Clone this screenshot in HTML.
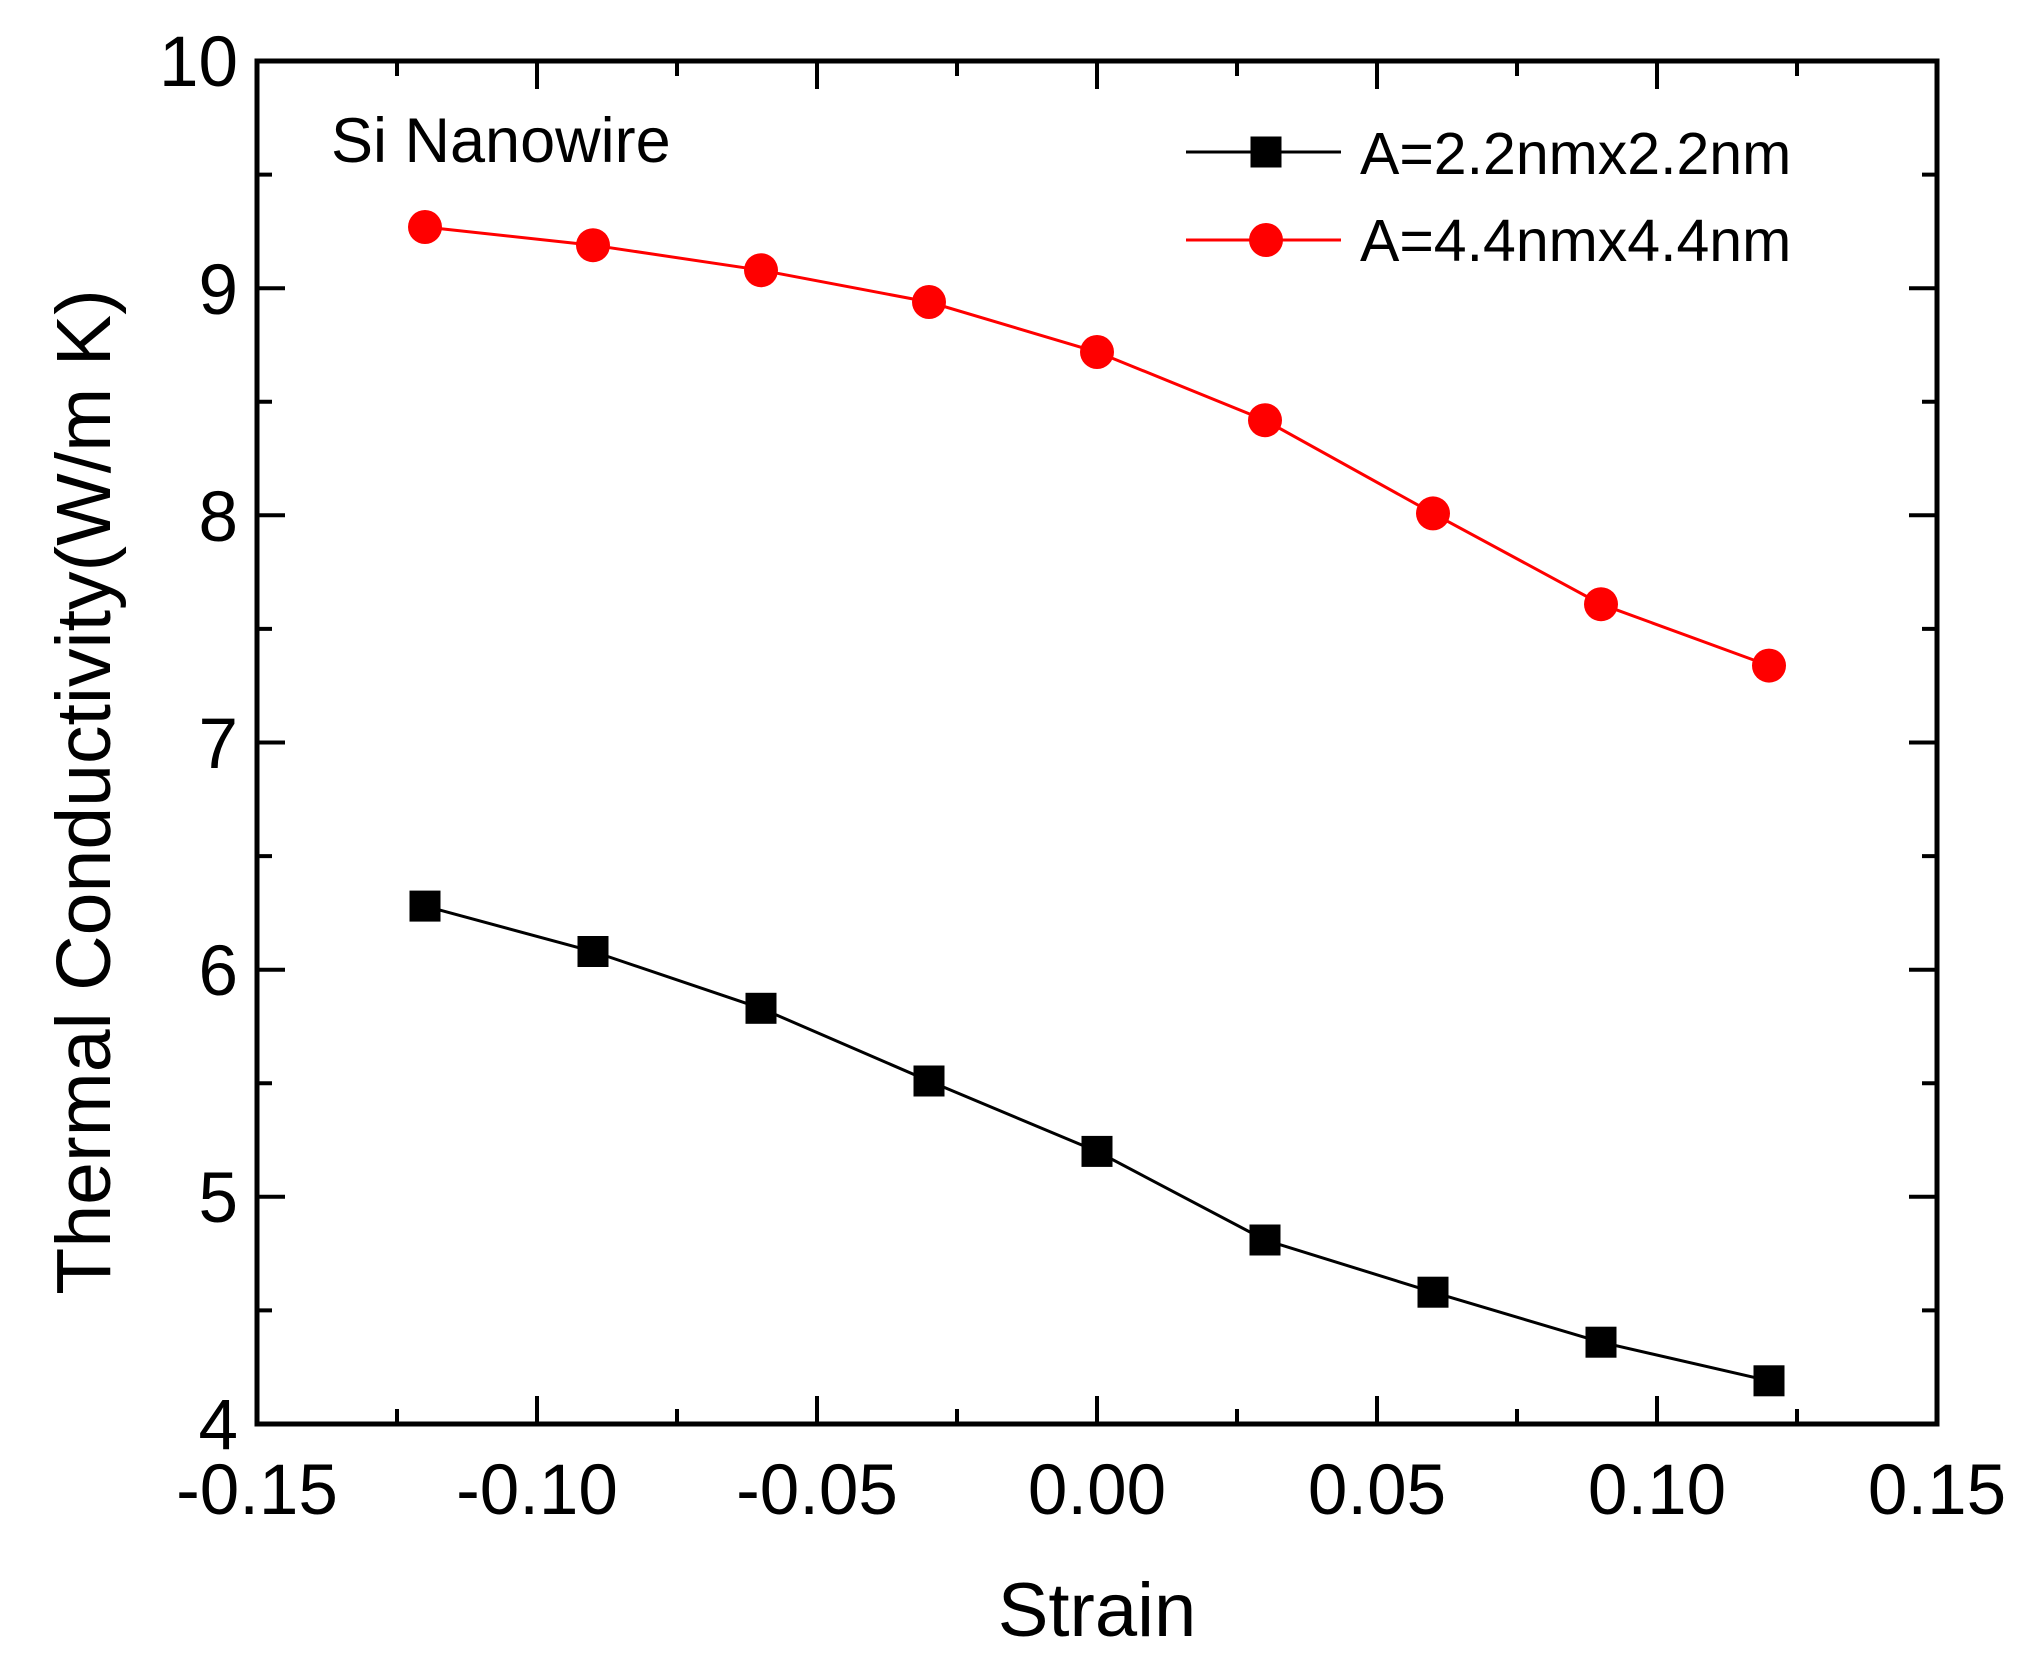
<!DOCTYPE html>
<html><head><meta charset="utf-8"><style>html,body{margin:0;padding:0;background:#fff}</style></head><body>
<svg width="2022" height="1651" xmlns="http://www.w3.org/2000/svg" font-family="Liberation Sans, Arial, sans-serif">
<rect width="2022" height="1651" fill="#fff"/>
<rect x="257" y="61" width="1680" height="1363" fill="none" stroke="#000" stroke-width="5"/>
<g stroke="#000" stroke-width="4">
<path d="M257 1424v-28M537 1424v-28M817 1424v-28M1097 1424v-28M1377 1424v-28M1657 1424v-28M1937 1424v-28
M257 61v28M537 61v28M817 61v28M1097 61v28M1377 61v28M1657 61v28M1937 61v28
M397 1424v-15M677 1424v-15M957 1424v-15M1237 1424v-15M1517 1424v-15M1797 1424v-15
M397 61v15M677 61v15M957 61v15M1237 61v15M1517 61v15M1797 61v15
M257 1424h28M257 1196.8h28M257 969.7h28M257 742.5h28M257 515.3h28M257 288.2h28M257 61h28
M1937 1424h-28M1937 1196.8h-28M1937 969.7h-28M1937 742.5h-28M1937 515.3h-28M1937 288.2h-28M1937 61h-28
M257 1310.4h15M257 1083.3h15M257 856.1h15M257 628.9h15M257 401.8h15M257 174.6h15
M1937 1310.4h-15M1937 1083.3h-15M1937 856.1h-15M1937 628.9h-15M1937 401.8h-15M1937 174.6h-15"/>
</g>
<g font-size="71" text-anchor="middle" fill="#000">
<text x="257" y="1514">-0.15</text><text x="537" y="1514">-0.10</text><text x="817" y="1514">-0.05</text>
<text x="1097" y="1514">0.00</text><text x="1377" y="1514">0.05</text><text x="1657" y="1514">0.10</text><text x="1937" y="1514">0.15</text>
</g>
<g font-size="71" text-anchor="end" fill="#000">
<text x="238" y="1449">4</text><text x="238" y="1222">5</text><text x="238" y="995">6</text><text x="238" y="768">7</text>
<text x="238" y="541">8</text><text x="238" y="314">9</text><text x="238" y="86">10</text>
</g>
<text x="1097" y="1636" font-size="76" text-anchor="middle">Strain</text>
<text transform="translate(110,792) rotate(-90)" font-size="77" text-anchor="middle">Thermal Conductivity(W/m K)</text>
<text x="331" y="162" font-size="63">Si Nanowire</text>
<polyline fill="none" stroke="#000" stroke-width="3" points="425,906.1 593,951.5 761,1008.3 929,1081.0 1097,1151.4 1265,1240.0 1433,1292.2 1601,1342.2 1769,1380.8"/>
<polyline fill="none" stroke="#f00" stroke-width="3" points="425,227.0 593,245.2 761,270.2 929,302.0 1097,352.0 1265,420.2 1433,513.4 1601,604.2 1769,665.6"/>
<g fill="#000">
<rect x="409.5" y="890.6" width="31" height="31"/><rect x="577.5" y="936" width="31" height="31"/><rect x="745.5" y="992.8" width="31" height="31"/>
<rect x="913.5" y="1065.5" width="31" height="31"/><rect x="1081.5" y="1135.9" width="31" height="31"/><rect x="1249.5" y="1224.5" width="31" height="31"/>
<rect x="1417.5" y="1276.7" width="31" height="31"/><rect x="1585.5" y="1326.7" width="31" height="31"/><rect x="1753.5" y="1365.3" width="31" height="31"/>
</g>
<g fill="#f00">
<circle cx="425" cy="227" r="17"/><circle cx="593" cy="245.2" r="17"/><circle cx="761" cy="270.2" r="17"/><circle cx="929" cy="302" r="17"/>
<circle cx="1097" cy="352" r="17"/><circle cx="1265" cy="420.2" r="17"/><circle cx="1433" cy="513.4" r="17"/><circle cx="1601" cy="604.2" r="17"/><circle cx="1769" cy="665.6" r="17"/>
</g>
<line x1="1186" y1="152" x2="1341" y2="152" stroke="#000" stroke-width="3"/>
<rect x="1250.5" y="136.5" width="31" height="31" fill="#000"/>
<text x="1360" y="174" font-size="59">A=2.2nmx2.2nm</text>
<line x1="1186" y1="240" x2="1341" y2="240" stroke="#f00" stroke-width="3"/>
<circle cx="1266" cy="240" r="17" fill="#f00"/>
<text x="1360" y="261" font-size="59">A=4.4nmx4.4nm</text>
</svg>
</body></html>
